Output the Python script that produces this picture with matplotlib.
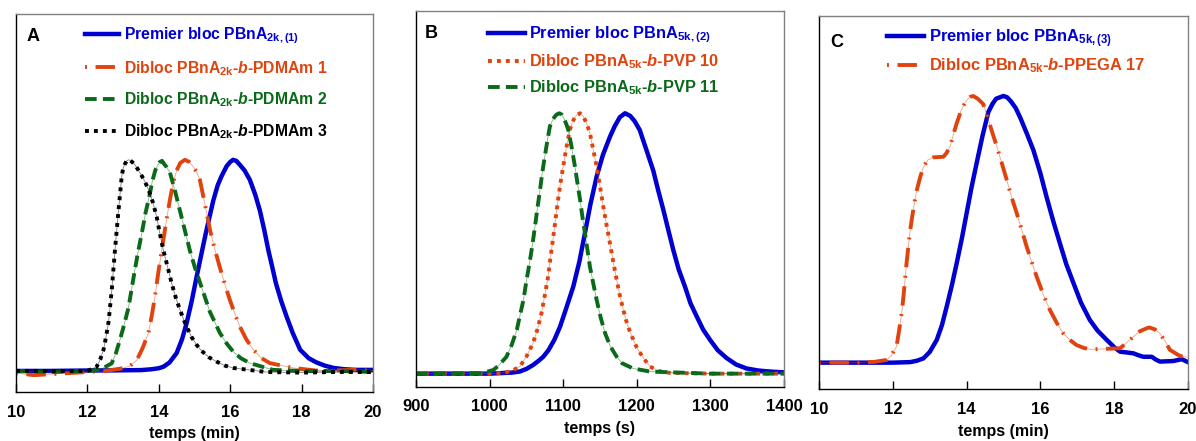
import matplotlib
matplotlib.use('Agg')
import matplotlib.pyplot as plt

plt.rcParams['font.family'] = ['Liberation Sans', 'DejaVu Sans']
plt.rcParams['font.weight'] = 'bold'
plt.rcParams['mathtext.fontset'] = 'custom'
plt.rcParams['mathtext.rm'] = 'Liberation Sans:bold'
plt.rcParams['mathtext.bf'] = 'Liberation Sans:bold'
plt.rcParams['mathtext.it'] = 'Liberation Sans:italic:bold'
plt.rcParams['mathtext.default'] = 'rm'

BLEU = '#0000d0'
ORANGE = '#e0440e'
VERT = '#0b6a1a'
NOIR = '#000000'

# ---------------- panneau A (temps en min)
tA_bleu = [10, 11, 12, 13, 13.5, 13.8, 14.0, 14.13, 14.3, 14.5, 14.65, 14.78, 14.92, 15.06, 15.2,
           15.3, 15.42, 15.53, 15.65, 15.75, 15.9, 16.0, 16.08, 16.17, 16.25, 16.4, 16.55, 16.7,
           16.83, 16.95, 17.07, 17.18, 17.28, 17.43, 17.58, 17.75, 17.96, 18.2, 18.42, 18.65,
           18.9, 19.2, 19.5, 20]
vA_bleu = [0, 0, 0.002, 0.003, 0.004, 0.008, 0.013, 0.02, 0.04, 0.085, 0.15, 0.227, 0.33, 0.447, 0.56,
           0.64, 0.73, 0.81, 0.88, 0.92, 0.97, 0.99, 1.0, 0.995, 0.98, 0.95, 0.905, 0.835,
           0.76, 0.67, 0.57, 0.49, 0.415, 0.33, 0.257, 0.18, 0.10, 0.06, 0.04, 0.025,
           0.014, 0.008, 0.005, 0.005]

tA_or = [10, 10.5, 11, 11.5, 12, 12.5, 13.0, 13.2, 13.38, 13.55, 13.71, 13.8, 13.89, 13.98, 14.08,
         14.2, 14.31, 14.4, 14.5, 14.6, 14.73, 14.85, 14.95, 15.05, 15.15, 15.29, 15.43, 15.57,
         15.71, 15.85, 15.99, 16.13, 16.27, 16.45, 16.65, 16.88, 17.11, 17.77, 18.5, 19.5, 20]
vA_or = [-0.01, -0.02, -0.015, -0.01, -0.005, 0.0, 0.013, 0.025, 0.05, 0.11, 0.18, 0.26, 0.35, 0.46, 0.57,
         0.70, 0.81, 0.89, 0.95, 0.985, 1.0, 0.99, 0.97, 0.945, 0.905, 0.79, 0.67, 0.575,
         0.49, 0.41, 0.336, 0.27, 0.21, 0.15, 0.10, 0.06, 0.037, 0.014, 0.0, 0.005, 0.0]

tA_vert = [10, 11, 12, 12.35, 12.68, 12.8, 12.91, 13.03, 13.15, 13.24, 13.33, 13.42, 13.52, 13.63,
           13.75, 13.82, 13.9, 13.97, 14.03, 14.09, 14.15, 14.22, 14.31, 14.45, 14.59, 14.73,
           14.87, 15.01, 15.15, 15.29, 15.43, 15.57, 15.71, 15.9, 16.09, 16.3, 16.55, 17.2, 18,
           19, 20]
vA_vert = [0.0, -0.005, 0.0, 0.005, 0.036, 0.085, 0.147, 0.22, 0.30, 0.39, 0.48, 0.565, 0.65, 0.75,
           0.84, 0.90, 0.95, 0.975, 0.99, 0.995, 0.98, 0.965, 0.94, 0.855, 0.76, 0.665,
           0.57, 0.49, 0.42, 0.35, 0.28, 0.23, 0.18, 0.13, 0.09, 0.06, 0.037, 0.005, 0.0,
           0.0, -0.005]

tA_noir = [10, 11, 12, 12.26, 12.36, 12.45, 12.52, 12.59, 12.68, 12.77, 12.87, 12.96, 13.0, 13.05,
           13.1, 13.15, 13.2, 13.25, 13.34, 13.43, 13.57, 13.71, 13.83, 13.94, 14.03, 14.13,
           14.25, 14.36, 14.47, 14.59, 14.75, 14.92, 15.05, 15.2, 15.4, 15.62, 15.85, 16.09, 17,
           18, 19, 20]
vA_noir = [0.0, 0.0, 0.0, 0.02, 0.055, 0.10, 0.16, 0.23, 0.38, 0.57, 0.76, 0.92, 0.96, 0.98,
           0.995, 1.0, 0.997, 0.99, 0.975, 0.95, 0.91, 0.86, 0.80, 0.73, 0.65, 0.57,
           0.49, 0.415, 0.35, 0.29, 0.22, 0.16, 0.125, 0.095, 0.065, 0.044, 0.025, 0.014, -0.005,
           -0.008, -0.005, -0.005]

# ---------------- panneau B (temps en s)
tB_bleu = [900, 1000, 1030, 1041, 1050, 1059, 1066, 1073, 1080, 1088, 1095.7, 1104, 1113.7, 1122,
           1129.6, 1137, 1145.5, 1154, 1163.6, 1170, 1177, 1184, 1191, 1197, 1204, 1213, 1222.4,
           1229, 1236, 1243, 1249.6, 1257, 1265.5, 1273, 1281.4, 1290, 1299.5, 1310, 1322, 1335,
           1349, 1365, 1381, 1400]
vB_bleu = [0, 0, 0.004, 0.008, 0.018, 0.033, 0.048, 0.065, 0.09, 0.13, 0.18, 0.25, 0.334, 0.43,
           0.54, 0.65, 0.757, 0.84, 0.91, 0.95, 0.985, 1.0, 0.99, 0.97, 0.936, 0.86, 0.78,
           0.705, 0.63, 0.55, 0.475, 0.40, 0.334, 0.27, 0.22, 0.17, 0.13, 0.09, 0.06, 0.035,
           0.02, 0.012, 0.008, 0.005]

tB_or = [900, 1000, 1018, 1030, 1041, 1050, 1059, 1065, 1070.5, 1075, 1079.5, 1082.5, 1086, 1089.5,
         1093, 1096.5, 1100, 1104.5, 1109, 1112.5, 1116, 1119, 1122.8, 1127, 1132, 1136.4, 1140.5,
         1145.5, 1150, 1154.5, 1159, 1163.6, 1168, 1172.7, 1177, 1181.7, 1186, 1190.8, 1200,
         1209, 1218, 1230, 1245, 1300, 1400]
vB_or = [0, 0, 0.003, 0.01, 0.027, 0.065, 0.117, 0.17, 0.232, 0.30, 0.372, 0.44, 0.513, 0.59,
         0.667, 0.735, 0.795, 0.87, 0.936, 0.965, 0.985, 0.995, 1.0, 0.99, 0.96, 0.923, 0.865,
         0.795, 0.72, 0.641, 0.57, 0.50, 0.43, 0.36, 0.30, 0.245, 0.20, 0.16, 0.10,
         0.06, 0.027, 0.01, 0.003, 0.0, 0.0]

tB_vert = [900, 990, 1005, 1012, 1023, 1030, 1037, 1041, 1046, 1050, 1055, 1058.5, 1061.7, 1065,
           1068.5, 1071.5, 1075, 1078.5, 1082, 1085, 1088, 1091, 1094.8, 1098, 1101, 1104, 1107,
           1111.5, 1116, 1119.5, 1123, 1126, 1129.6, 1133, 1136.4, 1141, 1145.5, 1151, 1157,
           1164, 1172.7, 1180, 1195, 1218, 1300, 1400]
vB_vert = [0, 0.002, 0.014, 0.03, 0.065, 0.11, 0.168, 0.22, 0.283, 0.355, 0.437, 0.50, 0.565, 0.635,
           0.705, 0.77, 0.833, 0.895, 0.95, 0.97, 0.985, 0.995, 1.0, 0.995, 0.98, 0.96, 0.936,
           0.87, 0.795, 0.73, 0.667, 0.605, 0.54, 0.475, 0.41, 0.345, 0.283, 0.215, 0.155,
           0.105, 0.065, 0.04, 0.02, 0.008, 0.0, 0.0]

# ---------------- panneau C (temps en min)
tC_bleu = [10, 11, 12, 12.47, 12.65, 12.83, 13.0, 13.19, 13.33, 13.46, 13.6, 13.73, 13.87, 14.0,
           14.13, 14.27, 14.43, 14.59, 14.7, 14.8, 15.0, 15.1, 15.2, 15.33, 15.45, 15.63, 15.81,
           16.0, 16.17, 16.35, 16.53, 16.7, 16.9, 17.1, 17.34, 17.55, 17.8, 18.0, 18.16, 18.35,
           18.52, 18.65, 18.79, 19.02, 19.12, 19.24, 19.6, 19.83, 20.0]
vC_bleu = [0, 0, 0, 0.002, 0.007, 0.016, 0.04, 0.085, 0.14, 0.21, 0.29, 0.372, 0.465, 0.56,
           0.655, 0.747, 0.85, 0.94, 0.97, 0.99, 1.0, 0.995, 0.98, 0.955, 0.92, 0.86, 0.797,
           0.71, 0.62, 0.53, 0.447, 0.37, 0.297, 0.225, 0.16, 0.12, 0.085, 0.058, 0.041, 0.038,
           0.035, 0.028, 0.022, 0.022, 0.012, 0.004, 0.006, 0.013, 0.002]

tC_or = [10, 11, 11.5, 11.83, 11.95, 12.1, 12.17, 12.24, 12.29, 12.33, 12.37, 12.42, 12.46, 12.51,
         12.58, 12.65, 12.74, 12.83, 12.95, 13.1, 13.37, 13.45, 13.55, 13.64, 13.73, 13.85, 13.9,
         14.0, 14.1, 14.18, 14.3, 14.45, 14.54, 14.68, 14.82, 14.95, 15.09, 15.22, 15.36, 15.5,
         15.63, 15.77, 15.9, 16.08, 16.26, 16.44, 16.62, 16.8, 16.98, 17.16, 17.34, 17.8, 18.16,
         18.34, 18.52, 18.7, 18.88, 18.95, 19.1, 19.24, 19.38, 19.51, 19.78, 20]
vC_or = [0, 0, 0.003, 0.01, 0.025, 0.06, 0.12, 0.185, 0.25, 0.31, 0.37, 0.434, 0.485, 0.534,
         0.595, 0.647, 0.695, 0.734, 0.76, 0.77, 0.772, 0.785, 0.81, 0.855, 0.897, 0.945, 0.96,
         0.984, 0.997, 1.0, 0.99, 0.97, 0.934, 0.87, 0.81, 0.75, 0.684, 0.62, 0.56, 0.495,
         0.434, 0.375, 0.322, 0.255, 0.197, 0.15, 0.11, 0.085, 0.066, 0.056, 0.05, 0.052, 0.054,
         0.075, 0.097, 0.118, 0.129, 0.132, 0.125, 0.11, 0.08, 0.048, 0.025, 0.02]

# styles (pointilles en unites de largeur de trait)
TIRET_POINT = (0.5, 2.2, 5, 2.2)
TIRET = (3, 1.6)
POINTS = (1, 1.3)


def courbe(ax, t, v, couleur, tirets, label, lw=2.8):
    assert len(t) == len(v), label
    if tirets is None:
        return ax.plot(t, v, color=couleur, lw=lw, label=label, solid_joinstyle='round')[0]
    # fin trait de liaison, comme dans Excel
    ax.plot(t, v, color=couleur, lw=0.6, alpha=0.5)
    l, = ax.plot(t, v, color=couleur, lw=lw, label=label, dashes=tirets)
    return l


def cadre(ax, xmin, xmax, pas, ymin, ymax, xlabel):
    ax.set_xlim(xmin, xmax)
    ax.set_ylim(ymin, ymax)
    ax.set_xticks(range(xmin, xmax + 1, pas))
    ax.set_yticks([])
    ax.tick_params(axis='x', direction='in', length=6, width=1, labelsize=12, pad=9)
    for s in ['top', 'right']:
        ax.spines[s].set_color('#808080')
    for s in ax.spines.values():
        s.set_linewidth(1)
    ax.set_xlabel(xlabel, fontsize=11.5, fontweight='bold', labelpad=5)


fig = plt.figure(figsize=(11.96, 4.41), dpi=100)

# A
ax = fig.add_axes([0.0134, 0.111, 0.2985, 0.857])
courbe(ax, tA_bleu, vA_bleu, BLEU, None, r'Premier bloc PBnA$_{2k,(1)}$', lw=3.2)
courbe(ax, tA_or, vA_or, ORANGE, TIRET_POINT, r'Dibloc PBnA$_{2k}$-$\mathit{b}$-PDMAm 1')
courbe(ax, tA_vert, vA_vert, VERT, TIRET, r'Dibloc PBnA$_{2k}$-$\mathit{b}$-PDMAm 2')
courbe(ax, tA_noir, vA_noir, NOIR, POINTS, r'Dibloc PBnA$_{2k}$-$\mathit{b}$-PDMAm 3')
cadre(ax, 10, 20, 2, -0.1, 1.69, 'temps (min)')
ax.legend(loc='upper left', bbox_to_anchor=(0.193, 0.97), frameon=False, fontsize=11.3,
          labelcolor='linecolor', handlelength=2.2, handletextpad=0.3, labelspacing=0.82,
          borderpad=0, borderaxespad=0)
ax.text(0.03, 0.94, 'A', transform=ax.transAxes, fontsize=13, fontweight='bold', va='center')

# B
ax = fig.add_axes([0.3478, 0.1232, 0.3077, 0.8526])
courbe(ax, tB_bleu, vB_bleu, BLEU, None, r'Premier bloc PBnA$_{5k,(2)}$', lw=3.2)
courbe(ax, tB_or, vB_or, ORANGE, POINTS, r'Dibloc PBnA$_{5k}$-$\mathit{b}$-PVP 10')
courbe(ax, tB_vert, vB_vert, VERT, TIRET, r'Dibloc PBnA$_{5k}$-$\mathit{b}$-PVP 11')
cadre(ax, 900, 1400, 100, -0.05, 1.394, 'temps (s)')
ax.legend(loc='upper left', bbox_to_anchor=(0.195, 0.963), frameon=False, fontsize=11.8,
          labelcolor='linecolor', handlelength=2.25, handletextpad=0.27, labelspacing=0.44,
          borderpad=0, borderaxespad=0)
ax.text(0.025, 0.94, 'B', transform=ax.transAxes, fontsize=13, fontweight='bold', va='center')

# C
ax = fig.add_axes([0.6848, 0.1172, 0.3085, 0.8465])
courbe(ax, tC_bleu, vC_bleu, BLEU, None, r'Premier bloc PBnA$_{5k,(3)}$', lw=3.2)
courbe(ax, tC_or, vC_or, ORANGE, TIRET_POINT, r'Dibloc PBnA$_{5k}$-$\mathit{b}$-PPEGA 17')
cadre(ax, 10, 20, 2, -0.1, 1.30, 'temps (min)')
ax.legend(loc='upper left', bbox_to_anchor=(0.185, 0.97), frameon=False, fontsize=11.85,
          labelcolor='linecolor', handlelength=2.25, handletextpad=0.27, labelspacing=0.42,
          borderpad=0, borderaxespad=0)
ax.text(0.03, 0.93, 'C', transform=ax.transAxes, fontsize=13, fontweight='bold', va='center')

fig.savefig('out.png', dpi=100)
